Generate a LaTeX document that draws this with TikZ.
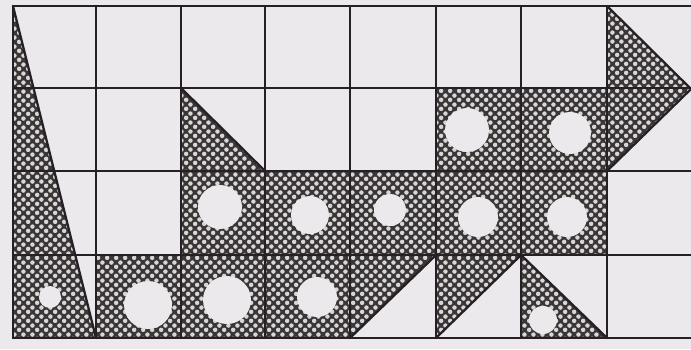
\documentclass[tikz,border=0pt]{standalone}
\usepackage{xcolor}
\usepackage{tikz}
\usetikzlibrary{patterns.meta}

\definecolor{paper}{RGB}{236,233,236}
\definecolor{ink}{RGB}{38,32,38}
\definecolor{screen}{RGB}{58,54,54}

\tikzdeclarepattern{
  name=halftone,
  type=uncolored,
  bottom left={(0pt,0pt)},
  top right={(5pt,5pt)},
  tile size={(5pt,5pt)},
  code={
    \pgfpathcircle{\pgfqpoint{1.25pt}{1.25pt}}{1.3pt}
    \pgfpathcircle{\pgfqpoint{3.75pt}{3.75pt}}{1.3pt}
    \pgfusepath{fill}
  }
}

\begin{document}
\begin{tikzpicture}[
    x=0.02cm, y=-0.02cm,
    sheet/.style={fill=paper},
    hatched/.style={preaction={fill=screen}, pattern=halftone, pattern color=paper!92!black},
    hole/.style={fill=paper},
    rule/.style={draw=ink, line width=1.3pt, line cap=round},
    slant/.style={draw=ink, line width=1.3pt, line join=round, line cap=round}
]

% Paper
\fill[sheet] (0,0) rectangle (691,349);
\useasboundingbox (0,0) rectangle (691,349);

% Shaded pieces
\fill[hatched] (13,6) -- (96,338) -- (13,338) -- cycle;            % left wedge
\fill[hatched] (181,88) -- (265,171) -- (181,171) -- cycle;        % row 2 triangle
\fill[hatched] (436,88) rectangle (607,171);                       % row 2 block
\fill[hatched] (607,6) -- (691,89) -- (607,171) -- cycle;          % arrow head
\fill[hatched] (181,171) rectangle (607,255);                      % row 3 band
\fill[hatched] (96,255) rectangle (350,338);                       % row 4 band
\fill[hatched] (350,255) -- (436,255) -- (350,338) -- cycle;
\fill[hatched] (436,255) -- (521,255) -- (436,338) -- cycle;
\fill[hatched] (521,255) -- (607,338) -- (521,338) -- cycle;

% Holes
\foreach \hx/\hy/\hr in {467/130/22, 570/133/21,
                         220/207/22, 310/215/19, 390/210/16, 478/217/20, 567/217/20,
                         50/297/11, 148/305/24, 227/300/24, 317/297/20, 543/320/14}
  \fill[hole] (\hx,\hy) circle (\hr);

% Grid
\foreach \gx in {13,96,181,265,350,436,521,607}
  \draw[rule] (\gx,6) -- (\gx,338);
\foreach \gy in {6,88,171,255,338}
  \draw[rule] (13,\gy) -- (691,\gy);

% Slanted edges
\draw[slant] (13,6) -- (96,338);
\draw[slant] (181,88) -- (265,171);
\draw[slant] (607,6) -- (691,89) -- (607,171);
\draw[slant] (350,338) -- (436,255);
\draw[slant] (436,338) -- (521,255);
\draw[slant] (521,255) -- (607,338);

\end{tikzpicture}
\end{document}
